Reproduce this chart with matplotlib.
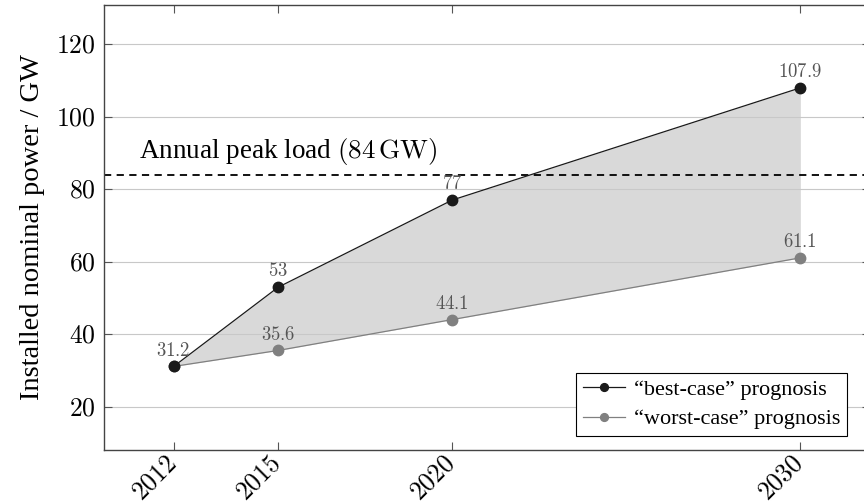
import matplotlib
matplotlib.use("Agg")
import matplotlib.pyplot as plt

years = [2012, 2015, 2020, 2030]
best_case = [31.2, 53, 77, 107.9]
worst_case = [31.2, 35.6, 44.1, 61.1]
peak_load = 84
yticks = [20, 40, 60, 80, 100, 120]

plt.rcParams['mathtext.fontset'] = 'cm'
plt.rcParams['font.family'] = ['Liberation Serif', 'DejaVu Serif']

fig = plt.figure(figsize=(8.64, 5.04), dpi=100)
ax = fig.add_axes([104/864, 1 - 450/504, 766/864, 445/504])

ax.set_xlim(2010.0, 2032.0)
ax.set_ylim(8.2, 130.7)

ax.fill_between(years, worst_case, best_case, color='#d9d9d9', lw=0, zorder=1)
ax.axhline(peak_load, color='black', ls=(0, (4, 3)), lw=1.3, zorder=2)
ax.plot(years, best_case, color='#1a1a1a', lw=0.9, marker='o', ms=7.5,
        label='“best-case” prognosis', zorder=4)
ax.plot(years, worst_case, color='#808080', lw=0.9, marker='o', ms=7.5,
        label='“worst-case” prognosis', zorder=3)

for x, y in zip(years, best_case):
    if x == 2012:
        continue
    ax.annotate(f'${y:g}$', (x, y), xytext=(0, 5), textcoords='offset points',
                ha='center', va='bottom', fontsize=13.5, color='#555555', zorder=5)
for x, y in zip(years, worst_case):
    ax.annotate(f'${y:g}$', (x, y), xytext=(0, 5), textcoords='offset points',
                ha='center', va='bottom', fontsize=13.5, color='#555555', zorder=5)

ax.text(2011.0, 90.4, r'Annual peak load $(84\,\mathrm{GW})$', fontsize=19.5,
        ha='left', va='center')

ax.set_yticks(yticks)
ax.set_yticklabels([f'${v}$' for v in yticks], fontsize=18.5)
ax.set_xticks(years)
ax.set_xticklabels([f'${v}$' for v in years], fontsize=18.5, rotation=45,
                   ha='right', va='center', rotation_mode='anchor')
ax.tick_params(axis='both', direction='in', length=6, width=0.8, color='#555555',
               top=True, right=True)
ax.tick_params(axis='x', pad=7)
ax.tick_params(axis='y', pad=6)
ax.grid(axis='y', color='#c8c8c8', lw=0.8, zorder=0)
for s in ax.spines.values():
    s.set_color('#444444')
    s.set_linewidth(1.0)

ax.set_ylabel('Installed nominal power / GW', fontsize=20.5, labelpad=8)

leg = ax.legend(loc='lower right', bbox_to_anchor=(847/864, 1 - 436/504),
                bbox_transform=fig.transFigure, fontsize=16, fancybox=False,
                framealpha=1, edgecolor='black', handlelength=1.9, borderaxespad=0,
                borderpad=0.3, labelspacing=0.4, handletextpad=0.4, markerscale=0.75)
leg.get_frame().set_linewidth(0.8)

fig.savefig('out.png', dpi=100)
